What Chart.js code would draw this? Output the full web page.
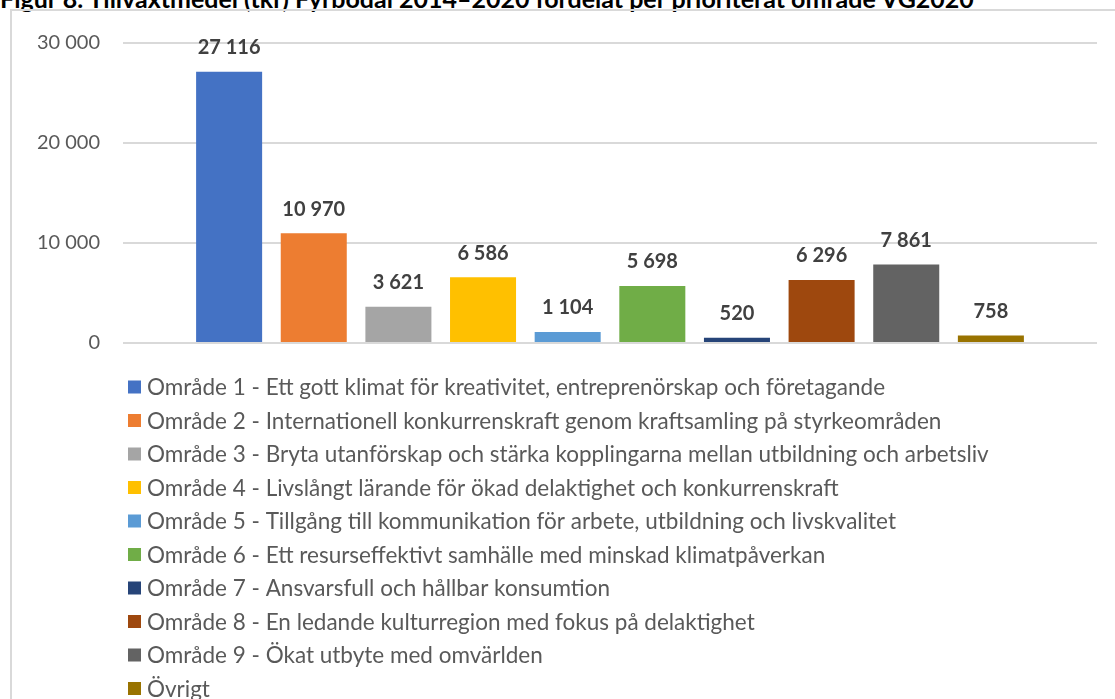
<!DOCTYPE html>
<html>
<head>
<meta charset="utf-8">
<script src="https://cdn.jsdelivr.net/npm/chart.js@4/dist/chart.umd.min.js"></script>
<style>
  html, body { margin: 0; padding: 0; background: #fff; overflow: hidden; }
  #wrap { position: relative; width: 1115px; height: 699px; }
  #title {
    position: absolute; left: 0; top: -17px; white-space: nowrap;
    font: bold 25px Lato, sans-serif; color: #000;
  }
  #frame {
    position: absolute; left: 10px; top: 9px; width: 1200px; height: 800px;
    border-left: 2px solid #d9d9d9; border-top: 2px solid #d9d9d9;
  }
  canvas { position: absolute; left: 0; top: 0; }
</style>
</head>
<body>
<div id="wrap">
  <div id="title">Figur 8. Tillväxtmedel (tkr) Fyrbodal 2014–2020 fördelat per prioriterat område VG2020</div>
  <div id="frame"></div>
  <canvas id="chart" width="1115" height="699"></canvas>
</div>
<script>
const areas = [
  "Område 1 - Ett gott klimat för kreativitet, entreprenörskap och företagande",
  "Område 2 - Internationell konkurrenskraft genom kraftsamling på styrkeområden",
  "Område 3 - Bryta utanförskap och stärka kopplingarna mellan utbildning och arbetsliv",
  "Område 4 - Livslångt lärande för ökad delaktighet och konkurrenskraft",
  "Område 5 - Tillgång till kommunikation för arbete, utbildning och livskvalitet",
  "Område 6 - Ett resurseffektivt samhälle med minskad klimatpåverkan",
  "Område 7 - Ansvarsfull och hållbar konsumtion",
  "Område 8 - En ledande kulturregion med fokus på delaktighet",
  "Område 9 - Ökat utbyte med omvärlden",
  "Övrigt"
];
const amounts = [27116, 10970, 3621, 6586, 1104, 5698, 520, 6296, 7861, 758];
const colors = ["#4472C4", "#ED7D31", "#A5A5A5", "#FFC000", "#5B9BD5",
                "#70AD47", "#264478", "#9E480E", "#636363", "#997300"];
const yTicks = [0, 10000, 20000, 30000];

function fmt(n) {
  return String(n).replace(/\B(?=(\d{3})+(?!\d))/g, " ");
}

// value labels above each bar
const valueLabels = {
  id: "valueLabels",
  afterDatasetsDraw(chart) {
    const ctx = chart.ctx;
    ctx.save();
    ctx.font = "bold 20px Lato, sans-serif";
    ctx.fillStyle = "#404040";
    ctx.textAlign = "center";
    ctx.textBaseline = "bottom";
    chart.data.datasets.forEach((ds, i) => {
      const bar = chart.getDatasetMeta(i).data[0];
      ctx.fillText(fmt(ds.data[0]), bar.x, bar.y - 14);
    });
    ctx.restore();
  }
};

// vertical legend under the plot
const listLegend = {
  id: "listLegend",
  afterDraw(chart) {
    const ctx = chart.ctx;
    ctx.save();
    ctx.font = "22.5px Lato, sans-serif";
    ctx.textBaseline = "middle";
    chart.data.datasets.forEach((ds, i) => {
      const y = 387 + i * 33.5;
      ctx.fillStyle = ds.backgroundColor;
      ctx.fillRect(128, y - 6.5, 13, 13);
      ctx.fillStyle = "#595959";
      ctx.fillText(ds.label, 147, y + 1);
    });
    ctx.restore();
  }
};

const datasets = areas.map((name, i) => ({
  label: name,
  data: [amounts[i]],
  backgroundColor: colors[i],
  categoryPercentage: 0.869,
  barPercentage: 0.78
}));

new Chart(document.getElementById("chart"), {
  type: "bar",
  data: { labels: [""], datasets: datasets },
  options: {
    responsive: false,
    animation: false,
    layout: { padding: { top: 43, right: 18, bottom: 356, left: 0 } },
    plugins: {
      legend: { display: false },
      tooltip: { enabled: false }
    },
    scales: {
      x: { display: false },
      y: {
        min: 0,
        max: 30000,
        afterFit(scale) { scale.width = 123; },
        afterBuildTicks(scale) { scale.ticks = yTicks.map(v => ({ value: v })); },
        border: { display: false },
        grid: { color: "#d9d9d9", lineWidth: 2, drawTicks: false },
        ticks: {
          padding: 23,
          color: "#595959",
          font: { family: "Lato, sans-serif", size: 20 },
          callback: v => fmt(v)
        }
      }
    }
  },
  plugins: [valueLabels, listLegend]
});
</script>
</body>
</html>
